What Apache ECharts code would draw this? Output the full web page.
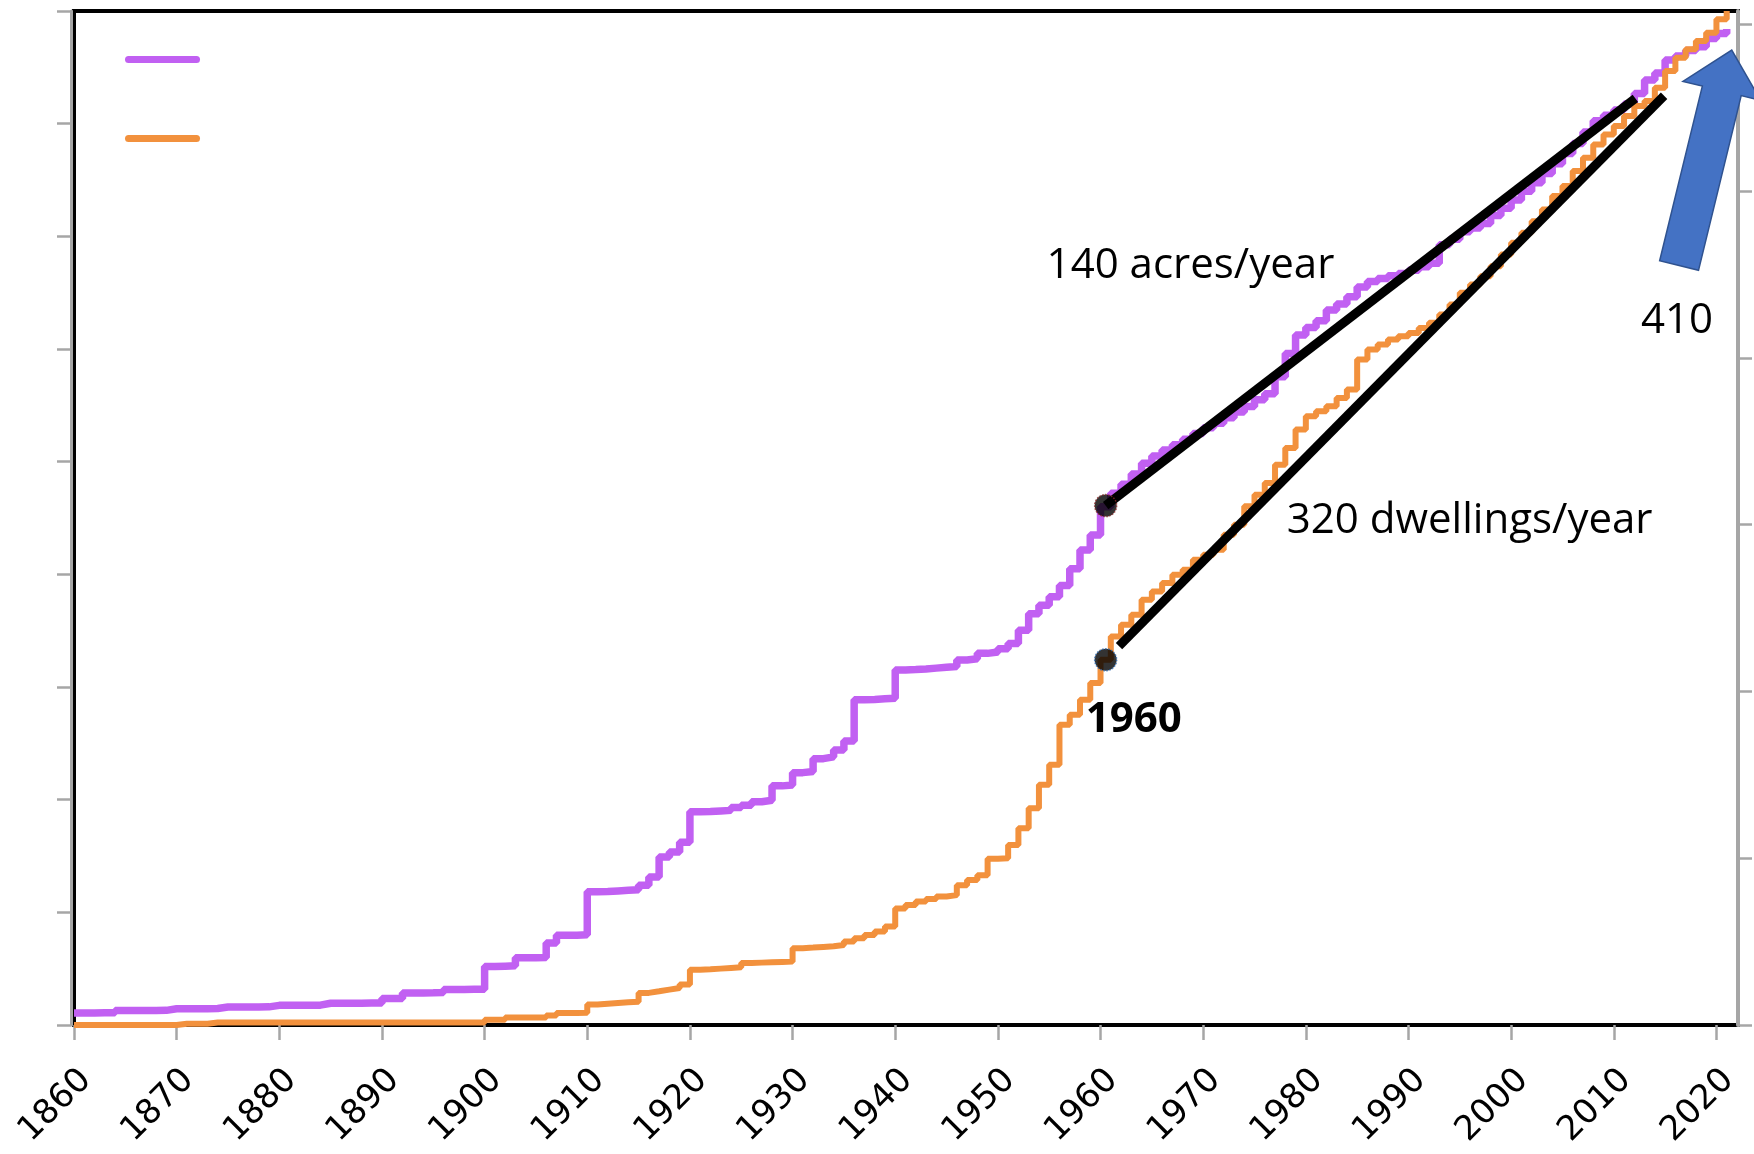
<!DOCTYPE html>
<html>
<head>
<meta charset="utf-8">
<script src="https://cdn.jsdelivr.net/npm/echarts@6/dist/echarts.min.js"></script>
<style>
html,body{margin:0;padding:0;background:#fff;}
#chart{width:1754px;height:1154px;}
</style>
</head>
<body>
<div id="chart"></div>
<script>
// ---------------- DATA ----------------
const firstYear = 1860;

// Cumulative developed land (acres), one value per year 1860..2021 (left axis)
const acres = [
  214,214,216,218,257,257,258,258,260,288,          // 1860-1869
  288,289,290,292,318,318,319,320,322,349,          // 1870-1879
  349,350,351,352,386,386,387,388,389,390,          // 1880-1889
  471,472,569,570,572,575,630,632,634,636,          // 1890-1899
  1040,1045,1050,1193,1195,1200,1457,1591,1595,1600,// 1900-1909
  2364,2370,2380,2390,2400,2480,2628,2981,3070,3246,// 1910-1919
  3787,3790,3800,3810,3863,3900,3963,3990,4245,4260,// 1920-1929
  4480,4500,4728,4760,4880,5040,5774,5780,5790,5800,// 1930-1939
  6303,6310,6320,6335,6350,6362,6480,6500,6597,6620,// 1940-1949
  6680,6774,7009,7300,7450,7600,7800,8100,8430,8700,// 1950-1959
  9200,9440,9600,9780,9970,10100,10207,10300,10400,10502, // 1960-1969
  10600,10680,10780,10880,10980,11100,11206,11507,11922,12250, // 1970-1979
  12380,12500,12691,12800,12928,13100,13200,13253,13300,13342, // 1980-1989
  13400,13460,13520,13850,13950,14080,14150,14229,14370,14500, // 1990-1999
  14643,14800,14950,15117,15290,15470,15650,15850,16050,16150, // 2000-2009
  16241,16350,16537,16773,16900,17128,17200,17300,17365,17513, // 2010-2019
  17600,17680                                                  // 2020-2021
];

// Cumulative dwellings, one value per year 1860..2021 (right axis)
const dwellings = [
  0,0,0,0,0,0,0,0,0,0,                              // 1860-1869
  40,40,40,72,72,72,72,72,72,72,                    // 1870-1879
  72,72,72,72,72,72,72,72,72,72,                    // 1880-1889
  72,72,72,72,72,72,72,72,72,72,                    // 1890-1899
  155,155,227,227,227,227,288,360,360,367,          // 1900-1909
  616,640,660,680,700,963,1010,1060,1110,1211,      // 1910-1919
  1658,1670,1690,1710,1730,1857,1870,1880,1890,1900,// 1920-1929
  2304,2320,2340,2360,2400,2500,2600,2700,2800,2950,// 1930-1939
  3495,3600,3700,3780,3850,3893,4190,4350,4490,4985,// 1940-1949
  5000,5400,5900,6500,7200,7800,9000,9300,9750,10250, // 1950-1959
  10950,11650,12000,12300,12750,13000,13250,13500,13650,13950, // 1960-1969
  14100,14250,14700,15000,15550,15900,16250,16800,17300,17850, // 1970-1979
  18250,18400,18550,18800,19050,19950,20250,20400,20550,20650, // 1980-1989
  20750,20900,21050,21300,21600,21950,22200,22450,22750,23100, // 1990-1999
  23450,23750,24100,24450,24850,25150,25600,26000,26400,26700, // 2000-2009
  26950,27250,27550,27700,28100,28600,29000,29250,29500,29750, // 2010-2019
  30150,30400                                                  // 2020-2021
];

// Axis ticks / labels
const xTickLabels = [1860,1870,1880,1890,1900,1910,1920,1930,1940,1950,1960,1970,1980,1990,2000,2010,2020];
const acresTicks = [0,2000,4000,6000,8000,10000,12000,14000,16000,18000];
const dwellingTicks = [0,5000,10000,15000,20000,25000,30000];

// Trend lines (start/end points) and 1960 markers
const acresTrend = [[1960.5, 9220], [2012.1, 16450]];
const dwellingTrend = [[1961.8, 11360], [2014.9, 27860]];
const acresMarker1960 = [1960.5, 9220];
const dwellingMarker1960 = [1960.5, 10950];

// Annotation texts, anchored (left edge, middle) in year / acres coordinates
const noteTexts = ['140 acres/year', '320 dwellings/year', '410', '1960'];
const noteAnchors = [[1954.7, 13470], [1978.1, 8950], [2012.6, 12500], [1958.5, 5410]];
const noteBold = [false, false, false, true];

// Block arrow: [tail year, tail acres, tip year, tip acres]
const arrow410 = [[2016.36, 13481, 2021.49, 17306]];

// ---------------- CHART ----------------
const acresSeries = acres.map((v, i) => [firstYear + i, v]);
const dwellingSeries = dwellings.map((v, i) => [firstYear + i, v]);

const chart = echarts.init(document.getElementById('chart'), null, {renderer: 'canvas'});

const tickStyle = {color: '#A6A6A6', width: 2.5};

const option = {
  backgroundColor: '#ffffff',
  animation: false,
  grid: {
    left: 74, right: 16, top: 11, bottom: 129,
    show: true, borderColor: '#000000', borderWidth: 4, backgroundColor: 'transparent'
  },
  legend: {
    data: ['Acres', 'Dwellings'],
    orient: 'vertical',
    left: 120, top: 51,
    itemWidth: 75, itemHeight: 7, itemGap: 72,
    icon: 'path://M3.5,0H71.5A3.5,3.5,0,0,1,71.5,7H3.5A3.5,3.5,0,0,1,3.5,0Z',
    formatter: () => '',
    selectedMode: false,
    textStyle: {fontSize: 1}
  },
  xAxis: {
    type: 'value', min: 1860, max: 2022.1, interval: 10,
    axisLine: {show: false},
    splitLine: {show: false},
    axisTick: {show: true, length: 15, lineStyle: tickStyle, customValues: xTickLabels},
    axisLabel: {
      customValues: xTickLabels,
      rotate: 45, margin: 38, verticalAlign: 'top',
      fontFamily: 'DejaVu Sans', fontSize: 34, color: '#000',
      formatter: v => String(v)
    }
  },
  yAxis: [
    {
      type: 'value', min: 0, max: 18000, interval: 2000, position: 'left', offset: 3,
      axisLine: {show: true, lineStyle: {color: '#A6A6A6', width: 3}},
      axisTick: {show: true, length: 14, lineStyle: tickStyle, customValues: acresTicks},
      axisLabel: {show: false},
      splitLine: {show: false}
    },
    {
      type: 'value', min: 0, max: 30400, interval: 5000, position: 'right',
      axisLine: {show: true, lineStyle: {color: '#A6A6A6', width: 4}},
      axisTick: {show: true, length: 14, lineStyle: tickStyle, customValues: dwellingTicks},
      axisLabel: {show: false},
      splitLine: {show: false}
    }
  ],
  series: [
    {
      name: 'Acres', type: 'line', step: 'end', yAxisIndex: 0,
      data: acresSeries, showSymbol: false, symbol: 'none',
      itemStyle: {color: '#C160F2'},
      lineStyle: {color: '#C160F2', width: 7.5}, z: 2, silent: true
    },
    {
      name: 'Dwellings', type: 'line', step: 'end', yAxisIndex: 1,
      data: dwellingSeries, showSymbol: false, symbol: 'none',
      itemStyle: {color: '#F2913D'},
      lineStyle: {color: '#F2913D', width: 6}, z: 3, silent: true
    },
    {
      name: 'acres trend', type: 'line', yAxisIndex: 0, data: acresTrend,
      showSymbol: false, symbol: 'none',
      lineStyle: {color: '#000', width: 9, cap: 'butt'}, z: 4, silent: true
    },
    {
      name: 'dwelling trend', type: 'line', yAxisIndex: 1, data: dwellingTrend,
      showSymbol: false, symbol: 'none',
      lineStyle: {color: '#000', width: 9, cap: 'butt'}, z: 4, silent: true
    },
    {
      name: 'acres 1960', type: 'scatter', yAxisIndex: 0, data: [acresMarker1960],
      symbolSize: 22, itemStyle: {color: '#000', borderColor: '#8E2A2A', borderWidth: 1.5, borderType: 'dotted'},
      z: 5, silent: true
    },
    {
      name: 'dwellings 1960', type: 'scatter', yAxisIndex: 1, data: [dwellingMarker1960],
      symbolSize: 22, itemStyle: {color: '#000', borderColor: '#2E6DB4', borderWidth: 1.5, borderType: 'dotted'},
      z: 5, silent: true
    },
    {
      name: 'notes', type: 'scatter', yAxisIndex: 0, clip: false, silent: true,
      symbolSize: 1, itemStyle: {color: 'rgba(0,0,0,0)'},
      data: noteTexts.map((t, i) => ({
        name: t, value: noteAnchors[i],
        label: {fontWeight: noteBold[i] ? 'bold' : 'normal'}
      })),
      label: {
        show: true, position: 'right', distance: 0, formatter: '{b}', opacity: 1,
        fontFamily: 'Open Sans', fontSize: 42, color: '#000'
      },
      labelLayout: {hideOverlap: false},
      z: 6
    },
    {
      name: 'arrow', type: 'custom', yAxisIndex: 0, clip: false, silent: true,
      encode: {x: [0, 2], y: [1, 3]},
      data: arrow410,
      renderItem: function (params, api) {
        const a = api.coord([api.value(0), api.value(1)]);
        const b = api.coord([api.value(2), api.value(3)]);
        const dx = b[0] - a[0], dy = b[1] - a[1], L = Math.hypot(dx, dy);
        const ux = dx / L, uy = dy / L, nx = -uy, ny = ux;
        const sw = 20, hw = 40, hl = 42;
        const bx = b[0] - ux * hl, by = b[1] - uy * hl;
        const pts = [
          [a[0] + nx * sw, a[1] + ny * sw],
          [bx + nx * sw, by + ny * sw],
          [bx + nx * hw, by + ny * hw],
          [b[0], b[1]],
          [bx - nx * hw, by - ny * hw],
          [bx - nx * sw, by - ny * sw],
          [a[0] - nx * sw, a[1] - ny * sw]
        ];
        return {
          type: 'polygon', shape: {points: pts},
          style: {fill: '#4472C4', stroke: '#2F528F', lineWidth: 1.5}
        };
      },
      z: 7
    }
  ]
};

chart.setOption(option);
</script>
</body>
</html>
